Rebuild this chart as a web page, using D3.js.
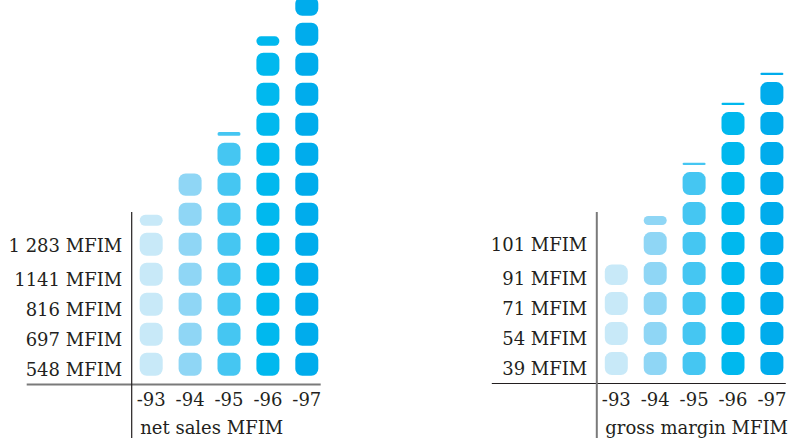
<!DOCTYPE html>
<html>
<head>
<meta charset="utf-8">
<script src="https://cdn.jsdelivr.net/npm/d3@7"></script>
<style>
  html, body { margin: 0; padding: 0; background: #ffffff; }
  svg { display: block; }
</style>
</head>
<body>
<svg id="chart" width="795" height="439"></svg>
<script>
// Years shown under each column
const years = ["-93", "-94", "-95", "-96", "-97"];

// Net sales, MFIM (one block = 100 MFIM)
const netSales = [548, 697, 816, 1141, 1283];
const netSalesLabels = ["548 MFIM", "697 MFIM", "816 MFIM", "1141 MFIM", "1 283 MFIM"];

// Gross margin, MFIM (one block = 10 MFIM)
const grossMargin = [39, 54, 71, 91, 101];
const grossMarginLabels = ["39 MFIM", "54 MFIM", "71 MFIM", "91 MFIM", "101 MFIM"];

// One shade of blue per year, lightest first
const yearColors = ["#c8e9f8", "#8fd6f5", "#45c6f2", "#00b8ee", "#00acec"];

const FONT = "'DejaVu Serif', serif";
const FONT_SIZE = 18;
const INK = "#231f20";

const svg = d3.select("#chart");

const pitch = 30;      // vertical distance between blocks
const block = 23;      // block side
const radius = 7;      // corner rounding

function drawPanel(opts) {
  const g = svg.append("g")
    .attr("font-family", FONT)
    .attr("fill", INK);
  const x0 = opts.axisX;

  // Column positions
  const x = d3.scalePoint()
    .domain(years)
    .range([x0 + 19.5, x0 + 19.5 + 4 * 38.9]);

  // Block count -> pixel position; y(k) is the lower edge of slot k
  const y = d3.scaleLinear()
    .domain([0, 1])
    .range([opts.base, opts.base - pitch]);

  const gap = (pitch - block) / 2;

  // Build the block list for every year
  const blocks = [];
  opts.values.forEach((v, i) => {
    const units = v / opts.unit;
    const full = Math.floor(units);
    const frac = units - full;
    for (let k = 0; k < full; k++) {
      blocks.push({ year: years[i], i, k, h: block });
    }
    if (frac > 0.001) {
      blocks.push({ year: years[i], i, k: full, h: frac * block });
    }
  });

  g.selectAll("rect.block")
    .data(blocks)
    .join("rect")
    .attr("class", "block")
    .attr("x", d => x(d.year) - block / 2)
    .attr("y", d => y(d.k) - gap - d.h)
    .attr("width", block)
    .attr("height", d => d.h)
    .attr("rx", d => Math.min(radius, d.h / 2))
    .attr("ry", d => Math.min(radius, d.h / 2))
    .attr("fill", d => yearColors[d.i]);

  // Value labels, one per row, the top one lifted a little
  g.selectAll("text.value")
    .data(opts.labels)
    .join("text")
    .attr("class", "value")
    .attr("x", x0 - 9.5)
    .attr("y", (d, i) => y(i) - gap + (i === opts.labels.length - 1 ? -4 : 0))
    .attr("text-anchor", "end")
    .attr("font-size", FONT_SIZE)
    .text(d => d);

  // Year labels
  g.selectAll("text.year")
    .data(years)
    .join("text")
    .attr("class", "year")
    .attr("x", d => x(d))
    .attr("y", 406)
    .attr("text-anchor", "middle")
    .attr("font-size", FONT_SIZE)
    .text(d => d);

  // Panel title
  g.append("text")
    .attr("x", x0 + 8.5)
    .attr("y", 433.5)
    .attr("font-size", FONT_SIZE)
    .text(opts.title);

  // Baseline and vertical rule
  g.append("line")
    .attr("x1", x0 - 105).attr("x2", x0 + 189)
    .attr("y1", opts.hLineY).attr("y2", opts.hLineY)
    .attr("stroke", opts.hColor)
    .attr("stroke-width", opts.hWidth);

  g.append("line")
    .attr("x1", x0).attr("x2", x0)
    .attr("y1", 212).attr("y2", 438)
    .attr("stroke", opts.vColor)
    .attr("stroke-width", opts.vWidth);
}

drawPanel({
  axisX: 131.7,
  base: 379.3,
  values: netSales,
  unit: 100,
  labels: netSalesLabels,
  title: "net sales MFIM",
  hLineY: 384.5, hColor: "#7a7a7a", hWidth: 2,
  vColor: INK, vWidth: 1.2
});

drawPanel({
  axisX: 596.8,
  base: 378.6,
  values: grossMargin,
  unit: 10,
  labels: grossMarginLabels,
  title: "gross margin MFIM",
  hLineY: 383.5, hColor: INK, hWidth: 1.2,
  vColor: "#7a7a7a", vWidth: 2
});
</script>
</body>
</html>
